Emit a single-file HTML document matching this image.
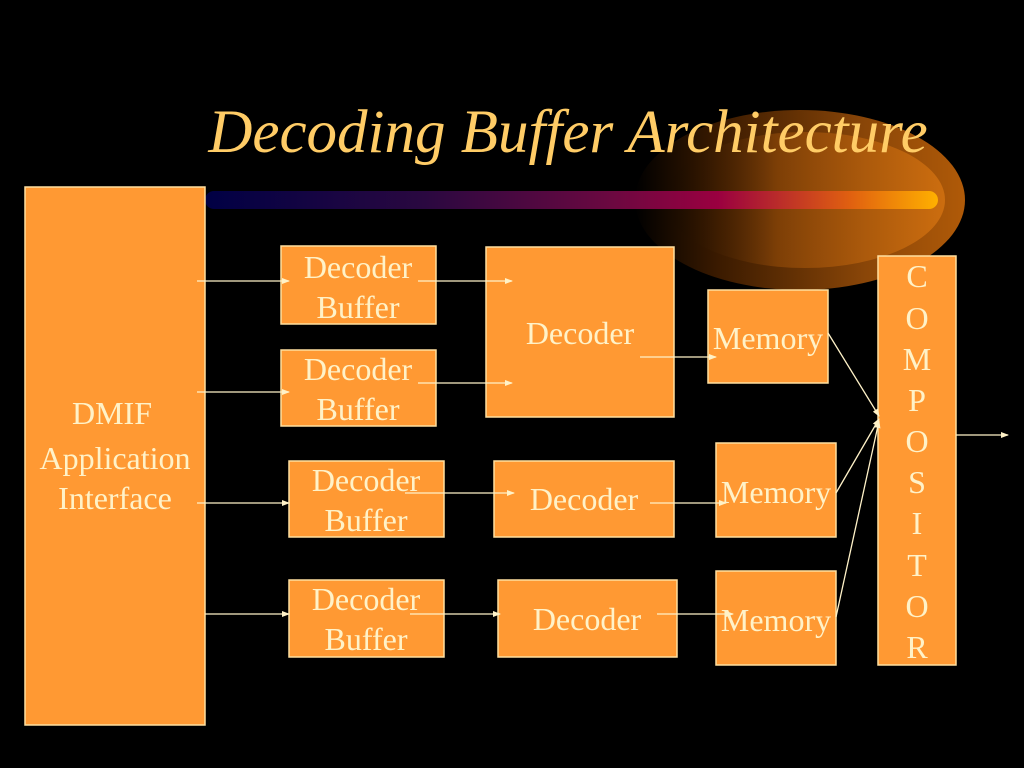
<!DOCTYPE html>
<html><head><meta charset="utf-8"><style>
html,body{margin:0;padding:0;background:#000;}
svg{display:block}
text{font-family:"Liberation Serif",serif;fill:#FFF2C8;font-size:32px;text-anchor:middle}
</style></head><body>
<svg width="1024" height="768" viewBox="0 0 1024 768" xmlns="http://www.w3.org/2000/svg">
<defs>
<linearGradient id="glow" x1="0" x2="1">
<stop offset="0" stop-color="#000"/>
<stop offset="0.25" stop-color="#3a1a00"/>
<stop offset="0.7" stop-color="#8a4608"/>
<stop offset="1" stop-color="#b05a08"/>
</linearGradient>
<linearGradient id="glow2" x1="0" x2="1">
<stop offset="0" stop-color="#000" stop-opacity="0"/>
<stop offset="0.4" stop-color="#a0520a" stop-opacity="0.5"/>
<stop offset="1" stop-color="#d07010" stop-opacity="0.9"/>
</linearGradient>
<linearGradient id="bar" x1="0" x2="1">
<stop offset="0" stop-color="#000044"/>
<stop offset="0.3" stop-color="#2a0840"/>
<stop offset="0.55" stop-color="#6a0840"/>
<stop offset="0.7" stop-color="#9a0040"/>
<stop offset="0.88" stop-color="#e06010"/>
<stop offset="1" stop-color="#ffb000"/>
</linearGradient>
<marker id="a" markerWidth="8" markerHeight="6" refX="7" refY="3" orient="auto" markerUnits="userSpaceOnUse"><path d="M0,0 L8,3 L0,6 z" fill="#FFF2C8"/></marker>
</defs>
<ellipse cx="800" cy="200" rx="165" ry="90" fill="url(#glow)"/>
<ellipse cx="805" cy="200" rx="140" ry="68" fill="url(#glow2)"/>
<rect x="205" y="191" width="733" height="18" rx="9" fill="url(#bar)"/>
<text x="568" y="152" style="font-size:61px;font-style:italic;fill:#FFCC66">Decoding Buffer Architecture</text>
<g fill="#FF9933" stroke="#FFE0A0" stroke-width="1.5">
<rect x="25" y="187" width="180" height="538"/>
<rect x="281" y="246" width="155" height="78"/>
<rect x="281" y="350" width="155" height="76"/>
<rect x="289" y="461" width="155" height="76"/>
<rect x="289" y="580" width="155" height="77"/>
<rect x="486" y="247" width="188" height="170"/>
<rect x="494" y="461" width="180" height="76"/>
<rect x="498" y="580" width="179" height="77"/>
<rect x="708" y="290" width="120" height="93"/>
<rect x="716" y="443" width="120" height="94"/>
<rect x="716" y="571" width="120" height="94"/>
<rect x="878" y="256" width="78" height="409"/>
</g>
<text x="112" y="424">DMIF</text>
<text x="115" y="469">Application</text>
<text x="115" y="509">Interface</text>
<text x="358" y="278">Decoder</text><text x="358" y="318">Buffer</text>
<text x="358" y="380">Decoder</text><text x="358" y="420">Buffer</text>
<text x="366" y="491">Decoder</text><text x="366" y="531">Buffer</text>
<text x="366" y="610">Decoder</text><text x="366" y="650">Buffer</text>
<text x="580" y="344">Decoder</text>
<text x="584" y="510">Decoder</text>
<text x="587" y="630">Decoder</text>
<text x="768" y="349">Memory</text>
<text x="776" y="503">Memory</text>
<text x="776" y="631">Memory</text>
<g style="font-size:30px">
<text x="917" y="287">C</text><text x="917" y="329">O</text><text x="917" y="370">M</text><text x="917" y="411">P</text><text x="917" y="452">O</text><text x="917" y="493">S</text><text x="917" y="534">I</text><text x="917" y="576">T</text><text x="917" y="617">O</text><text x="917" y="658">R</text>
</g>
<g stroke="#FFF2C8" stroke-width="1.3" marker-end="url(#a)">
<line x1="197" y1="281" x2="289" y2="281"/>
<line x1="197" y1="392" x2="289" y2="392"/>
<line x1="197" y1="503" x2="289" y2="503"/>
<line x1="205" y1="614" x2="289" y2="614"/>
<line x1="418" y1="281" x2="512" y2="281"/>
<line x1="418" y1="383" x2="512" y2="383"/>
<line x1="405" y1="493" x2="514" y2="493"/>
<line x1="410" y1="614" x2="500" y2="614"/>
<line x1="640" y1="357" x2="716" y2="357"/>
<line x1="650" y1="503" x2="726" y2="503"/>
<line x1="657" y1="614" x2="733" y2="614"/>
<line x1="828" y1="333" x2="879" y2="416"/>
<line x1="836" y1="493" x2="879" y2="419"/>
<line x1="836" y1="617" x2="879" y2="421"/>
<line x1="956" y1="435" x2="1008" y2="435"/>
</g>
</svg>
</body></html>
